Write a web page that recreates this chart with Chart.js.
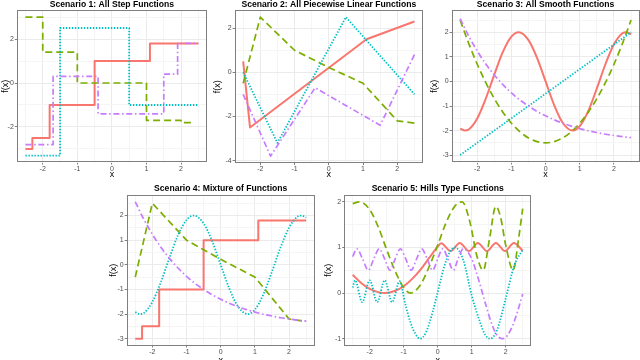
<!DOCTYPE html>
<html><head><meta charset="utf-8">
<script src="https://cdn.jsdelivr.net/npm/chart.js@4/dist/chart.umd.min.js"></script>
<style>
html,body{margin:0;padding:0;background:#fff;width:640px;height:360px;overflow:hidden;position:relative}
canvas{position:absolute}
</style></head><body>
<canvas id="c1" width="212" height="180" style="left:0;top:0"></canvas>
<canvas id="c2" width="213" height="180" style="left:212px;top:0"></canvas>
<canvas id="c3" width="211" height="180" style="left:429px;top:0"></canvas>
<canvas id="c4" width="210" height="186" style="left:108px;top:180px"></canvas>
<canvas id="c5" width="212" height="186" style="left:323px;top:180px"></canvas>
<script>
// ---------- tick labels ----------
const xMajor = [-2, -1, 0, 1, 2];
const xMinor = [-2.5, -1.5, -0.5, 0.5, 1.5, 2.5];
const y1Major = [-2, 0, 2], y1Minor = [-3, -1, 1, 3];
const y2Major = [-4, -2, 0, 2], y2Minor = [-3, -1, 1];
const y3Major = [-3, -2, -1, 0, 1, 2], y3Minor = [-2.5, -1.5, -0.5, 0.5, 1.5, 2.5];
const y4Major = [-3, -2, -1, 0, 1, 2], y4Minor = [-2.5, -1.5, -0.5, 0.5, 1.5, 2.5];
const y5Major = [-1, 0, 1, 2], y5Minor = [-0.5, 0.5, 1.5];

const titles = ['Scenario 1: All Step Functions', 'Scenario 2: All Piecewise Linear Functions',
  'Scenario 3: All Smooth Functions', 'Scenario 4: Mixture of Functions', 'Scenario 5: Hills Type Functions'];

// ---------- Scenario 1: step functions ----------
const s1RedX = [-2.5, -2.3, -1.8, -0.5, 1.1, 2.5];
const s1RedY = [-3, -2.5, -1, 1, 1.8, 1.8];
const s1GreenX = [-2.5, -2, -1, 1, 2, 2.4];
const s1GreenY = [3, 1.4, 0, -1.7, -1.8, -1.8];
const s1CyanX = [-2.5, -1.5, 0.5, 2.5];
const s1CyanY = [-3.3, 2.5, -1, -1];
const s1PurpleX = [-2.5, -1.7, -0.4, 1.5, 1.9, 2.5];
const s1PurpleY = [-2.8, 0.3, -1.4, 0.4, 1.8, 1.8];

// ---------- Scenario 2: piecewise linear ----------
const s2RedX = [-2.5, -2.3, 1.1, 2.5];
const s2RedY = [0.5, -2.5, 1.5, 2.3];
const s2GreenX = [-2.5, -2, -1, 0, 1, 2, 2.5];
const s2GreenY = [-0.5, 2.5, 1.0, 0.22, -0.5, -2.2, -2.3];
const s2CyanX = [-2.5, -1.5, 0.5, 2.5];
const s2CyanY = [0, -3.2, 2.5, -1];
const s2PurpleX = [-2.5, -1.7, -0.4, 1.5, 2.5];
const s2PurpleY = [-1, -3.8, -0.7, -2.4, 0.8];

// ---------- Scenario 3: smooth ----------
const s3RedX = [-2.5, -2.36, -2.25, -2, -1.75, -1.5, -1.25, -1, -0.79, -0.5, -0.25, 0, 0.25, 0.5, 0.79, 1, 1.25, 1.5, 1.75, 2, 2.25, 2.36, 2.5];
const s3RedY = [-1.92, -2.0, -1.96, -1.51, -0.70, 0.28, 1.20, 1.82, 2.0, 1.68, 0.96, 0, -0.96, -1.68, -2.0, -1.82, -1.20, -0.28, 0.70, 1.51, 1.96, 2.0, 1.92];
const s3GreenX = [-2.5, -2.25, -2, -1.75, -1.5, -1.25, -1, -0.75, -0.5, -0.25, 0, 0.25, 0.5, 0.75, 1, 1.25, 1.5, 1.75, 2, 2.25, 2.5];
const s3GreenY = [2.5, 1.55, 0.7, -0.05, -0.7, -1.25, -1.7, -2.05, -2.3, -2.45, -2.5, -2.45, -2.3, -2.05, -1.7, -1.25, -0.7, -0.05, 0.7, 1.55, 2.5];
const s3CyanX = [-2.5, 2.5];
const s3CyanY = [-3, 2];
const s3PurpleX = [-2.5, -2.25, -2, -1.75, -1.5, -1.25, -1, -0.75, -0.5, -0.25, 0, 0.25, 0.5, 0.75, 1, 1.25, 1.5, 1.75, 2, 2.25, 2.5];
const s3PurpleY = [2.56, 1.85, 1.24, 0.71, 0.26, -0.13, -0.47, -0.76, -1.0, -1.22, -1.40, -1.56, -1.70, -1.82, -1.92, -2.01, -2.08, -2.15, -2.20, -2.25, -2.29];

// ---------- Scenario 4: mixture (same shapes read again) ----------
const s4RedX = [-2.5, -2.3, -1.8, -0.5, 1.1, 2.5];
const s4RedY = [-3, -2.5, -1, 1, 1.8, 1.8];
const s4GreenX = [-2.5, -2, -1, 0, 1, 2, 2.5];
const s4GreenY = [-0.5, 2.5, 1.0, 0.22, -0.5, -2.2, -2.3];
const s4CyanX = s3RedX;
const s4CyanY = s3RedY;
const s4PurpleX = s3PurpleX;
const s4PurpleY = s3PurpleY;

// ---------- Scenario 5: hills ----------
const s5RedX = [-2.5, -2.25, -2, -1.75, -1.55, -1.25, -1, -0.75, -0.5, -0.25, 0, 0.1, 0.38, 0.65, 0.92, 1.18, 1.45, 1.71, 1.98, 2.24, 2.5];
const s5RedY = [0.40, 0.22, 0.09, 0.02, 0.0, 0.05, 0.15, 0.31, 0.52, 0.77, 1.02, 1.09, 0.92, 1.10, 0.92, 1.10, 0.92, 1.10, 0.92, 1.10, 0.93];
const s5GreenX = [-2.5, -2.3, -2.0, -1.75, -1.5, -1.25, -1.0, -0.8, -0.5, -0.25, 0, 0.25, 0.5, 0.72, 0.95, 1.15, 1.34, 1.52, 1.71, 1.85, 2.0, 2.22, 2.38, 2.5];
const s5GreenY = [1.96, 2.0, 1.83, 1.45, 0.95, 0.48, 0.12, 0.0, 0.19, 0.58, 1.05, 1.55, 1.9, 2.0, 1.55, 0.82, 0.5, 1.17, 1.9, 1.66, 1.05, 0.5, 1.2, 1.85];
const s5CyanX = [-2.5, -2.43, -2.22, -2.0, -1.78, -1.56, -1.34, -1.12, -0.95, -0.8, -0.65, -0.52, -0.35, -0.15, 0, 0.2, 0.35, 0.5, 0.75, 1.0, 1.25, 1.4, 1.55, 1.75, 2.0, 2.25, 2.5];
const s5CyanY = [0.12, 0.28, -0.2, 0.28, -0.2, 0.28, -0.2, 0.26, -0.25, -0.65, -0.9, -1.0, -0.87, -0.42, 0.02, 0.6, 0.89, 1.0, 0.73, -0.05, -0.65, -0.92, -1.0, -0.8, -0.12, 0.6, 0.95];
const s5PurpleX = [-2.5, -2.38, -2.21, -2.04, -1.88, -1.72, -1.56, -1.4, -1.25, -1.1, -0.94, -0.78, -0.62, -0.47, -0.31, -0.15, 0.0, 0.15, 0.3, 0.46, 0.6, 0.75, 1.0, 1.2, 1.4, 1.6, 1.75, 1.9, 2.05, 2.2, 2.35, 2.5];
const s5PurpleY = [0.8, 0.97, 0.75, 0.5, 0.75, 0.97, 0.75, 0.5, 0.75, 0.97, 0.75, 0.5, 0.75, 0.97, 0.75, 0.5, 0.75, 0.97, 0.75, 0.5, 0.75, 0.97, 0.75, 0.3, -0.22, -0.7, -0.93, -1.0, -0.93, -0.72, -0.4, -0.02];

// ---------- helpers ----------
const COL = {red: '#F8766D', green: '#7CAE00', cyan: '#00BFC4', purple: '#C77CFF'};
const FONT = 'Liberation Sans';
const pts = (xs, ys) => xs.map((x, i) => ({x: x, y: ys[i]}));

function series(xs, ys, kind, mode) {
  const st = {
    red:    {borderColor: COL.red, borderWidth: 2, borderDash: [], order: 4},
    green:  {borderColor: COL.green, borderWidth: 1.7, borderDash: [7, 4], order: 3},
    cyan:   {borderColor: COL.cyan, borderWidth: 1.8, borderDash: [1.4, 1.6], order: 2},
    purple: {borderColor: COL.purple, borderWidth: 1.7, borderDash: [6, 2.7, 1.5, 2.7], order: 1}
  }[kind];
  const d = Object.assign({data: pts(xs, ys), pointRadius: 0, fill: false, borderCapStyle: 'butt', borderJoinStyle: 'round'}, st);
  if (mode === 'step') d.stepped = true;
  else if (mode === 'smooth') d.cubicInterpolationMode = 'monotone';
  else d.tension = 0;
  return d;
}

function scale(pos, min, max, majors, minors, label, fit) {
  const all = majors.concat(minors).sort((a, b) => a - b);
  const isMaj = v => majors.indexOf(v) >= 0;
  return {
    type: 'linear', position: pos, min: min, max: max,
    afterBuildTicks: ax => { ax.ticks = all.map(v => ({value: v})); },
    afterFit: ax => { if (pos === 'left') ax.width = fit; else ax.height = fit; },
    ticks: {autoSkip: false, maxRotation: 0, padding: pos === 'left' ? 1 : 0, color: '#4D4D4D',
      font: {family: FONT, size: 7}, callback: v => isMaj(v) ? String(v) : ''},
    grid: {lineWidth: 1, drawTicks: true, tickLength: 2,
      color: c => (c.tick && isMaj(c.tick.value)) ? '#EBEBEB' : '#F5F5F5',
      tickColor: c => (c.tick && isMaj(c.tick.value)) ? '#7F7F7F' : 'rgba(0,0,0,0)'},
    border: {display: false},
    title: {display: true, text: label, color: '#000', font: {family: FONT, size: 9}, padding: 0}
  };
}

const panelPlugin = {
  id: 'panel',
  afterDatasetsDraw(chart, args, opts) {
    const ctx = chart.ctx, a = chart.chartArea;
    ctx.save();
    ctx.strokeStyle = '#7F7F7F'; ctx.lineWidth = 1;
    ctx.strokeRect(Math.round(a.left) + 0.5, Math.round(a.top) + 0.5, Math.round(a.right - a.left) - 1, Math.round(a.bottom - a.top) - 1);
    ctx.fillStyle = '#000'; ctx.font = 'bold 8.6px "' + FONT + '"';
    ctx.textAlign = 'center'; ctx.textBaseline = 'middle';
    ctx.fillText(opts.text, (a.left + a.right) / 2, opts.y);
    ctx.restore();
  }
};

function panel(id, g, yMaj, yMin, datasets, title) {
  const c = document.getElementById(id);
  new Chart(c, {
    type: 'line',
    data: {datasets: datasets},
    plugins: [panelPlugin],
    options: {
      responsive: false, animation: false, devicePixelRatio: 1,
      layout: {padding: {left: 0, top: g.t, right: c.width - g.r, bottom: 0}},
      plugins: {legend: {display: false}, tooltip: {enabled: false}, panel: {text: title, y: g.ty}},
      scales: {
        x: scale('bottom', -2.75, 2.75, xMajor, xMinor, 'x', c.height - g.b),
        y: scale('left', g.ymin, g.ymax, yMaj, yMin, 'f(x)', g.l)
      }
    }
  });
}

panel('c1', {l: 16.8, r: 207, t: 10.1, b: 162.5, ty: 4.5, ymin: -3.615, ymax: 3.315}, y1Major, y1Minor, [
  series(s1RedX, s1RedY, 'red', 'step'), series(s1GreenX, s1GreenY, 'green', 'step'),
  series(s1CyanX, s1CyanY, 'cyan', 'step'), series(s1PurpleX, s1PurpleY, 'purple', 'step')], titles[0]);

panel('c2', {l: 22.6, r: 211, t: 10.2, b: 163.1, ty: 4.5, ymin: -4.115, ymax: 2.815}, y2Major, y2Minor, [
  series(s2RedX, s2RedY, 'red', 'line'), series(s2GreenX, s2GreenY, 'green', 'line'),
  series(s2CyanX, s2CyanY, 'cyan', 'line'), series(s2PurpleX, s2PurpleY, 'purple', 'line')], titles[1]);

panel('c3', {l: 22.6, r: 210.6, t: 10.2, b: 162.5, ty: 4.5, ymin: -3.3, ymax: 2.9}, y3Major, y3Minor, [
  series(s3RedX, s3RedY, 'red', 'smooth'), series(s3GreenX, s3GreenY, 'green', 'smooth'),
  series(s3CyanX, s3CyanY, 'cyan', 'line'), series(s3PurpleX, s3PurpleY, 'purple', 'smooth')], titles[2]);

panel('c4', {l: 18.7, r: 206.7, t: 15, b: 165.5, ty: 8.4, ymin: -3.278, ymax: 2.834}, y4Major, y4Minor, [
  series(s4RedX, s4RedY, 'red', 'step'), series(s4GreenX, s4GreenY, 'green', 'line'),
  series(s4CyanX, s4CyanY, 'cyan', 'smooth'), series(s4PurpleX, s4PurpleY, 'purple', 'smooth')], titles[3]);

panel('c5', {l: 21.2, r: 208.2, t: 15, b: 165.5, ty: 8.4, ymin: -1.15, ymax: 2.15}, y5Major, y5Minor, [
  series(s5RedX, s5RedY, 'red', 'smooth'), series(s5GreenX, s5GreenY, 'green', 'smooth'),
  series(s5CyanX, s5CyanY, 'cyan', 'smooth'), series(s5PurpleX, s5PurpleY, 'purple', 'smooth')], titles[4]);
</script>
</body></html>
